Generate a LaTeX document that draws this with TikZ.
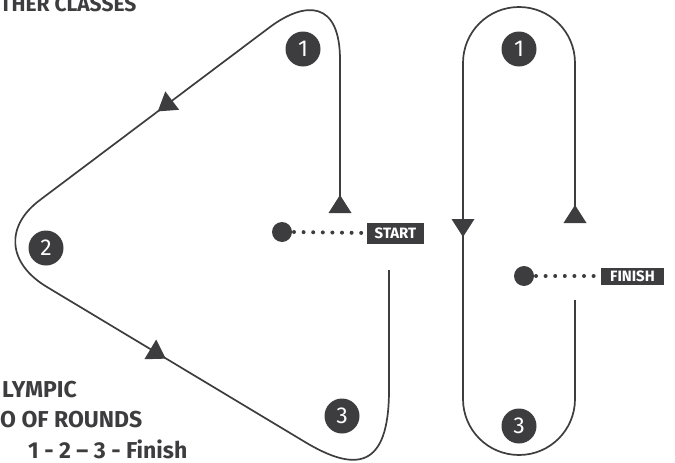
\documentclass[tikz,border=0pt]{standalone}
\usepackage{fontspec}
\setmainfont{Fira Sans}
\definecolor{ink}{HTML}{3D3D3F}
\begin{document}
\begin{tikzpicture}[x=1pt,y=-1pt,
  course/.style={draw=ink,line width=1.7pt},
  mark/.pic={\fill[ink] (9,0) -- (-9,11.5) -- (-9,-11.5) -- cycle;},
  buoy/.style={circle,fill=ink,text=white,minimum size=35pt,inner sep=0pt,font=\fontsize{23}{23}\selectfont},
  bigdot/.style={circle,fill=ink,minimum size=20pt,inner sep=0pt},
  tag/.style={fill=ink,text=white,inner sep=0pt,font=\bfseries\fontsize{15}{15}\selectfont},
  dotline/.style={draw=ink,line width=4pt,line cap=round,dash pattern=on 0pt off 9.6pt},
  title/.style={text=ink,font=\bfseries\fontsize{23}{23}\selectfont,inner sep=0pt,anchor=base west}]
\useasboundingbox (0,0) rectangle (675,463);
% triangle course
\draw[course] (340,196) -- (340,60) .. controls (340,0) and (305,1) .. (270,27)
  -- (40,200) .. controls (5,226) and (7,263) .. (47,287)
  -- (305,442) .. controls (355,472) and (389,470) .. (389,390) -- (389,270);
\pic[rotate=90] at (340,204) {mark};
\pic[rotate=216.87] at (165,106) {mark};
\pic[rotate=-30.96] at (158,354) {mark};
% windward-leeward course
\draw[course] (575,206) -- (575,63) .. controls (575,32) and (550,7) .. (519,7)
  .. controls (488,7) and (463,32) .. (463,63) -- (463,399)
  .. controls (463,430) and (488,455) .. (519,455) .. controls (550,455) and (575,430) .. (575,399)
  -- (575,300);
\pic[rotate=-90] at (463,228) {mark};
\pic[rotate=90] at (575,214) {mark};
% buoys
\node[buoy] (t1) at (303,49) {1};
\node[buoy] (t2) at (46,248) {2};
\node[buoy] (t3) at (342,416) {3};
\node[buoy] (w1) at (519,49) {1};
\node[buoy] (w3) at (519,426) {3};
% start / finish
\node[bigdot] (sd) at (282,232) {};
\node[tag,minimum width=57pt,minimum height=21pt] (st) at (395.5,233) {START};
\draw[dotline] (294,232) -- (st.west);
\node[bigdot] (fd) at (524,276) {};
\node[tag,minimum width=63pt,minimum height=17pt] (fn) at (632.5,276) {FINISH};
\draw[dotline] (536,276) -- (fn.west);
% texts
\node[title,font=\bfseries\fontsize{21}{21}\selectfont] (h1) at (0,11) {THER CLASSES};
\node[title] (h2) at (2,397) {LYMPIC};
\node[title] (h3) at (0,427) {O OF ROUNDS};
\node[title] (h4) at (28,458) {1 - 2 – 3 - Finish};
\end{tikzpicture}
\end{document}
